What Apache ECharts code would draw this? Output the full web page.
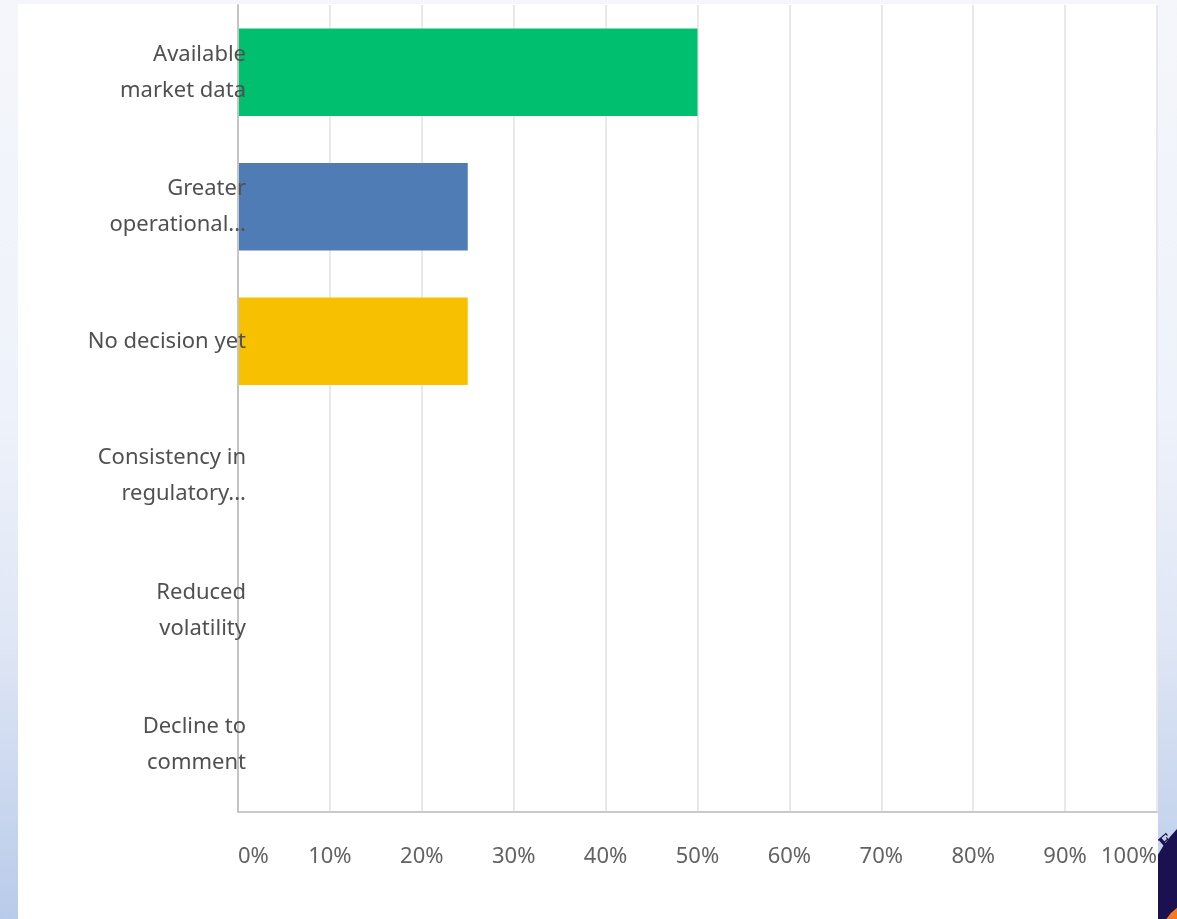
<!DOCTYPE html>
<html>
<head>
<meta charset="utf-8">
<title>Survey responses</title>
<script src="https://cdn.jsdelivr.net/npm/echarts@6/dist/echarts.min.js"></script>
<style>
  html, body { margin: 0; padding: 0; }
  body {
    width: 1177px; height: 919px; overflow: hidden;
    background: linear-gradient(180deg, #f4f6fb 0%, #eef2fa 45%, #dfe6f5 70%, #b9cbea 100%);
  }
  #chart { width: 1177px; height: 919px; }
</style>
</head>
<body>
<div id="chart"></div>
<script>
// Answer options, top to bottom
const categories = [
  'Available\nmarket data',
  'Greater\noperational...',
  'No decision yet',
  'Consistency in\nregulatory...',
  'Reduced\nvolatility',
  'Decline to\ncomment'
];
// Share of respondents, percent
const shares = [50, 25, 25, 0, 0, 0];
// Bar colours per answer
const barColors = ['#00bf6f', '#507cb6', '#f7c000', '#6bc8cd', '#a5ce39', '#e05e73'];
// Tick values on the percentage axis
const tickMin = 0, tickMax = 100, tickStep = 10;

const chart = echarts.init(document.getElementById('chart'), null, { renderer: 'canvas' });

const labelFont = '"Noto Sans", "Open Sans", sans-serif';

chart.setOption({
  backgroundColor: 'transparent',
  animation: false,
  graphic: [
    // corner logo, partly behind the white card
    { type: 'circle', z: -30, shape: { cx: 1265, cy: 915, r: 123 }, style: { fill: '#1b1150' } },
    { type: 'arc', z: -29, shape: { cx: 1200, cy: 940, r: 34, startAngle: Math.PI * 0.85, endAngle: Math.PI * 1.4 },
      style: { stroke: '#f47a20', lineWidth: 11, fill: null } },
    { type: 'text', z: -28, x: 1167, y: 843, rotation: 0.7,
      style: { text: 'E', fill: '#1b1150', font: 'bold 18px "DejaVu Serif", serif', align: 'center', verticalAlign: 'middle' } },
    // white card holding the chart
    { type: 'rect', z: -20, shape: { x: 18, y: 4, width: 1140, height: 915 }, style: { fill: '#ffffff' } }
  ],
  grid: { left: 238, right: 20, top: 5, bottom: 107 },
  xAxis: {
    type: 'value',
    min: tickMin,
    max: tickMax,
    interval: tickStep,
    axisLine: { show: true, lineStyle: { color: '#c9c9c9', width: 2 } },
    axisTick: { show: false },
    splitLine: { show: true, lineStyle: { color: '#e9e9e9', width: 2 } },
    axisLabel: {
      formatter: '{value}%',
      margin: 34,
      color: '#626262',
      fontFamily: labelFont,
      fontSize: 22,
      alignMinLabel: 'left',
      alignMaxLabel: 'right'
    }
  },
  yAxis: {
    type: 'category',
    data: categories,
    inverse: true,
    z: 5,
    axisLine: { show: true, lineStyle: { color: '#c4c4c4', width: 2 } },
    axisTick: { show: false },
    splitLine: { show: false },
    axisLabel: {
      margin: -8,
      color: '#505050',
      fontFamily: labelFont,
      fontSize: 22,
      lineHeight: 36,
      align: 'right'
    }
  },
  series: [{
    type: 'bar',
    barCategoryGap: '35%',
    data: shares.map((v, i) => ({ value: v, itemStyle: { color: barColors[i] } })),
    z: 1
  }]
});
</script>
</body>
</html>
